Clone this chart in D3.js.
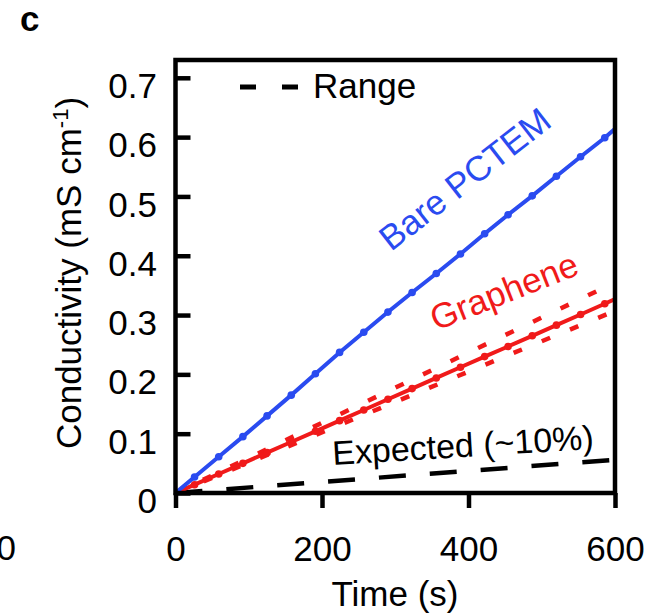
<!DOCTYPE html>
<html>
<head>
<meta charset="utf-8">
<script src="https://cdn.jsdelivr.net/npm/d3@7"></script>
<style>
    body { margin: 0; background: #fff; }
    svg { display: block; font-family: "Liberation Sans", Arial, Helvetica, sans-serif; }
</style>
</head>
<body>
<div id="chart"></div>
<script>
// values
var timePoints = [0, 26, 59, 92, 125, 158, 191, 224, 257, 290, 323, 356, 389, 422, 454, 487, 520, 553, 586, 600];
var bareValues = [0, 0.027, 0.061, 0.095, 0.130, 0.165, 0.201, 0.237, 0.271, 0.305, 0.338, 0.370, 0.403, 0.437, 0.469, 0.501, 0.534, 0.567, 0.599, 0.614];
var grapheneValues = [0, 0.014, 0.032, 0.050, 0.068, 0.086, 0.104, 0.122, 0.140, 0.158, 0.176, 0.194, 0.212, 0.230, 0.247, 0.265, 0.283, 0.301, 0.319, 0.327];
var rangeTime = [0, 600];
var rangeHigh = [0, 0.355];
var rangeLow = [0, 0.307];
var expectedTime = [0, 600];
var expectedValues = [0, 0.056];
var xTicks = [0, 200, 400, 600];
var yTicks = [0, 0.1, 0.2, 0.3, 0.4, 0.5, 0.6, 0.7];
var yTickLabels = ["0", "0.1", "0.2", "0.3", "0.4", "0.5", "0.6", "0.7"];

(function() {
    var width = 654, height = 616;
    var blue = "#2a4bf0", red = "#f01a1a";

    var svg = d3.select("#chart")
        .append("svg")
        .attr("width", width)
        .attr("height", height);

    var x = d3.scaleLinear().domain([0, 600]).range([175.5, 615]);
    var y = d3.scaleLinear().domain([0, 0.73]).range([493, 60]);

    function zip(ts, vs) {
        return ts.map(function(t, i) {
            return { t: t, v: vs[i] };
        });
    }

    var line = d3.line()
        .x(function(d) { return x(d.t); })
        .y(function(d) { return y(d.v); });

    svg.append("clipPath")
        .attr("id", "plotclip")
        .append("rect")
        .attr("x", x(0))
        .attr("y", y(0.73))
        .attr("width", x(600) - x(0))
        .attr("height", y(0) - y(0.73));

    var plot = svg.append("g").attr("clip-path", "url(#plotclip)");

    // expected (~10%)
    plot.append("path")
        .datum(zip(expectedTime, expectedValues))
        .attr("d", line)
        .attr("fill", "none")
        .attr("stroke", "#000")
        .attr("stroke-width", 4.5)
        .attr("stroke-dasharray", "27,24");

    // graphene range
    [rangeHigh, rangeLow].forEach(function(vals) {
        plot.append("path")
            .datum(zip(rangeTime, vals))
            .attr("d", line)
            .attr("fill", "none")
            .attr("stroke", red)
            .attr("stroke-width", 4.5)
            .attr("stroke-dasharray", "9,21.5");
    });

    function series(vals, color) {
        var data = zip(timePoints, vals);
        plot.append("path")
            .datum(data)
            .attr("d", line)
            .attr("fill", "none")
            .attr("stroke", color)
            .attr("stroke-width", 4);
        plot.selectAll(null)
            .data(data.filter(function(d) { return d.t > 0 && d.t < 600; }))
            .enter()
            .append("circle")
            .attr("cx", function(d) { return x(d.t); })
            .attr("cy", function(d) { return y(d.v); })
            .attr("r", 3.8)
            .attr("fill", color);
    }
    series(grapheneValues, red);
    series(bareValues, blue);

    // frame
    svg.append("rect")
        .attr("x", x(0))
        .attr("y", y(0.73))
        .attr("width", x(600) - x(0))
        .attr("height", y(0) - y(0.73))
        .attr("fill", "none")
        .attr("stroke", "#000")
        .attr("stroke-width", 4.5);

    var xAxis = svg.append("g")
        .attr("transform", "translate(0," + y(0) + ")")
        .call(d3.axisBottom(x).tickValues(xTicks).tickSize(15).tickSizeOuter(0).tickPadding(28)
            .tickFormat(d3.format("d")));

    var yAxis = svg.append("g")
        .attr("transform", "translate(" + x(0) + ",0)")
        .call(d3.axisLeft(y).tickValues(yTicks).tickSizeInner(-15).tickSizeOuter(0).tickPadding(18.5)
            .tickFormat(function(d, i) { return yTickLabels[i]; }));

    [xAxis, yAxis].forEach(function(g) {
        g.select(".domain").remove();
        g.selectAll(".tick line").attr("stroke", "#000").attr("stroke-width", 4.5);
        g.selectAll(".tick text")
            .attr("fill", "#000")
            .style("font-size", "35px")
            .style("font-family", "'Liberation Sans', Arial, sans-serif");
    });
    yAxis.selectAll(".tick text").attr("dy", "0.56em");

    // axis titles
    svg.append("text")
        .attr("x", 395)
        .attr("y", 606)
        .attr("text-anchor", "middle")
        .style("font-size", "35px")
        .text("Time (s)");

    var ylab = svg.append("text")
        .attr("transform", "translate(81,273) rotate(-90)")
        .attr("text-anchor", "middle")
        .style("font-size", "35px");
    ylab.append("tspan").text("Conductivity (mS cm");
    ylab.append("tspan").attr("dy", -13).style("font-size", "22px").text("-1");
    ylab.append("tspan").attr("dy", 13).text(")");

    // panel letter and neighbour's clipped tick label
    svg.append("text")
        .attr("x", 20)
        .attr("y", 31)
        .style("font-size", "35px")
        .style("font-weight", "bold")
        .text("c");

    svg.append("text")
        .attr("x", 16)
        .attr("y", 560)
        .attr("text-anchor", "end")
        .style("font-size", "35px")
        .text("0");

    // legend
    svg.append("line")
        .attr("x1", 240).attr("x2", 299)
        .attr("y1", 87).attr("y2", 87)
        .attr("stroke", "#000")
        .attr("stroke-width", 5)
        .attr("stroke-dasharray", "16,26");
    svg.append("text")
        .attr("x", 313)
        .attr("y", 98)
        .style("font-size", "35px")
        .text("Range");

    // in-plot labels
    svg.append("text")
        .attr("transform", "translate(391,252) rotate(-38)")
        .attr("fill", blue)
        .style("font-size", "35px")
        .text("Bare PCTEM");

    svg.append("text")
        .attr("transform", "translate(436,331) rotate(-21.5)")
        .attr("fill", red)
        .style("font-size", "35px")
        .text("Graphene");

    svg.append("text")
        .attr("transform", "translate(333,465) rotate(-3.5)")
        .attr("fill", "#000")
        .style("font-size", "34px")
        .text("Expected (~10%)");
})();
</script>
</body>
</html>
